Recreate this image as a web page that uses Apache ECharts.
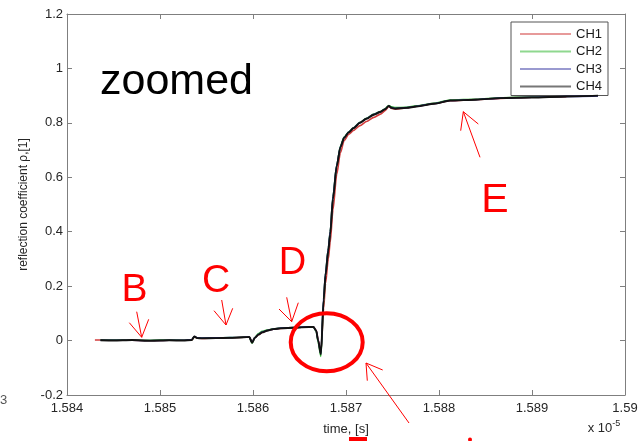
<!DOCTYPE html>
<html>
<head>
<meta charset="utf-8">
<script src="https://cdn.jsdelivr.net/npm/echarts@6/dist/echarts.min.js"></script>
<style>html,body{margin:0;padding:0;background:#fff;}#c{width:642px;height:441px;}</style>
</head>
<body>
<div id="c"></div>
<script>
// time axis values are in units of 1e-5 s
var times = [1.58430, 1.58436, 1.58450, 1.58470, 1.58490, 1.58510, 1.58525, 1.58534, 1.58537, 1.58540,
  1.58545, 1.58560, 1.58575, 1.58590, 1.58596, 1.58599, 1.58602, 1.58606, 1.58610, 1.58615,
  1.58622, 1.58630, 1.58645, 1.58660, 1.58665, 1.58668, 1.58670, 1.58673, 1.58676, 1.58678,
  1.58681, 1.58683, 1.58686, 1.58690, 1.58694, 1.58698, 1.58703, 1.58708, 1.58715, 1.58722,
  1.58730, 1.58737, 1.58742, 1.58746, 1.58749, 1.58753, 1.58765, 1.58776, 1.58795, 1.58812,
  1.58840, 1.58866, 1.58900, 1.58937, 1.58971];
var ch1 = [0.002, 0.002, 0.001, 0.001, 0.0, 0.001, 0.001, 0.002, 0.013, 0.009,
  0.008, 0.010, 0.010, 0.012, 0.013, -0.006, 0.011, 0.022, 0.030, 0.037,
  0.042, 0.045, 0.048, 0.050, 0.050, 0.038, 0.004, -0.046, 0.12, 0.21,
  0.30, 0.36, 0.48, 0.61, 0.69, 0.735, 0.758, 0.772, 0.79, 0.805,
  0.82, 0.832, 0.845, 0.860, 0.853, 0.851, 0.855, 0.861, 0.871, 0.881,
  0.886, 0.890, 0.894, 0.896, null];
var ch2 = [null, 0.002, 0.002, 0.001, 0.001, 0.002, 0.001, 0.002, 0.014, 0.009,
  0.009, 0.009, 0.011, 0.012, 0.012, -0.010, 0.012, 0.026, 0.034, 0.039,
  0.043, 0.046, 0.048, 0.050, 0.049, 0.034, -0.006, -0.058, 0.15, 0.25,
  0.34, 0.40, 0.53, 0.645, 0.715, 0.748, 0.767, 0.782, 0.802, 0.817,
  0.832, 0.842, 0.852, 0.864, 0.859, 0.856, 0.857, 0.863, 0.872, 0.884,
  0.887, 0.892, 0.895, 0.898, null];
var ch3 = [null, 0.001, 0.001, 0.001, 0.0, 0.001, 0.001, 0.003, 0.015, 0.010,
  0.009, 0.010, 0.011, 0.012, 0.013, -0.007, 0.011, 0.023, 0.031, 0.037,
  0.042, 0.046, 0.048, 0.051, 0.050, 0.036, 0.001, -0.049, 0.16, 0.25,
  0.34, 0.40, 0.53, 0.645, 0.712, 0.746, 0.766, 0.781, 0.801, 0.816,
  0.831, 0.841, 0.851, 0.862, 0.856, 0.853, 0.856, 0.861, 0.871, 0.882,
  0.886, 0.891, 0.894, 0.897, 0.899];
var ch4 = [null, 0.001, 0.0, 0.002, -0.001, 0.001, 0.0, 0.002, 0.015, 0.009,
  0.008, 0.009, 0.010, 0.012, 0.013, -0.008, 0.010, 0.022, 0.030, 0.036,
  0.042, 0.045, 0.047, 0.050, 0.050, 0.036, 0.0, -0.050, 0.15, 0.24,
  0.33, 0.39, 0.52, 0.64, 0.71, 0.745, 0.765, 0.78, 0.80, 0.815,
  0.83, 0.84, 0.85, 0.862, 0.855, 0.852, 0.855, 0.86, 0.87, 0.882,
  0.885, 0.891, 0.893, 0.897, 0.9];
var seriesNames = ['CH1', 'CH2', 'CH3', 'CH4'];
var seriesValues = [ch1, ch2, ch3, ch4];
var xTicks = {min: 1.584, max: 1.59, step: 0.001};
var yTicks = {min: -0.2, max: 1.2, step: 0.2};

var lineColors = ['#d23c3c', '#2fb52f', '#2b2b8f', '#111111'];
var legendColors = ['#e79a9a', '#8fd88f', '#9a9ad0', '#777777'];
var lineWidths = [1.6, 1.6, 1.6, 1.9];
var FONT = 'Liberation Sans, Arial, sans-serif';

function pairs(vals) {
  var out = [];
  for (var i = 0; i < times.length; i++) {
    if (vals[i] !== null && vals[i] !== undefined) out.push([times[i], vals[i]]);
  }
  return out;
}

var axisLineStyle = {color: '#7f7f7f', width: 1};
function xAx(pos, showLabel) {
  return {
    type: 'value', position: pos, min: xTicks.min, max: xTicks.max, interval: xTicks.step,
    axisLine: {show: true, onZero: false, lineStyle: axisLineStyle},
    axisTick: {show: true, inside: true, length: 5, lineStyle: axisLineStyle},
    splitLine: {show: false},
    axisLabel: {show: showLabel, color: '#262626', fontFamily: FONT, fontSize: 13, margin: 7,
      formatter: function (v) { return String(parseFloat(v.toFixed(3))); }},
    name: showLabel ? 'time, [s]' : '', nameLocation: 'middle', nameGap: 28,
    nameTextStyle: {color: '#262626', fontFamily: FONT, fontSize: 13}
  };
}
function yAx(pos, showLabel) {
  return {
    type: 'value', position: pos, min: yTicks.min, max: yTicks.max, interval: yTicks.step,
    axisLine: {show: true, onZero: false, lineStyle: axisLineStyle},
    axisTick: {show: true, inside: true, length: 5, lineStyle: axisLineStyle},
    splitLine: {show: false},
    axisLabel: {show: showLabel, color: '#262626', fontFamily: FONT, fontSize: 13, margin: 4,
      formatter: function (v) { return String(parseFloat(v.toFixed(1))); }},
    name: showLabel ? 'reflection coefficient \u03c1,[1]' : '', nameLocation: 'middle', nameGap: 27,
    nameTextStyle: {color: '#262626', fontFamily: FONT, fontSize: 12}
  };
}

var series = seriesNames.map(function (n, i) {
  return {
    name: n, type: 'line', xAxisIndex: 0, yAxisIndex: 0,
    data: pairs(seriesValues[i]), showSymbol: false, symbol: 'none',
    smooth: 0.25, smoothMonotone: 'x',
    lineStyle: {color: lineColors[i], width: lineWidths[i]},
    itemStyle: {color: lineColors[i]},
    z: 2 + i, animation: false
  };
});

var red = '#ff0000';
function seg(x1, y1, x2, y2, w) {
  return {type: 'line', shape: {x1: x1, y1: y1, x2: x2, y2: y2},
    style: {stroke: red, lineWidth: w || 1}, z: 100};
}
function letter(t, cx, cy, size) {
  return {type: 'text', x: cx, y: cy, z: 100,
    style: {text: t, fill: red, font: size + 'px ' + FONT, textAlign: 'center', textVerticalAlign: 'middle'}};
}

var graphics = [
  {type: 'text', x: 100, y: 82, z: 100,
    style: {text: 'zoomed', fill: '#000', font: '43px ' + FONT, textAlign: 'left', textVerticalAlign: 'middle'}},
  letter('B', 134.5, 290, 39), letter('C', 216, 281.5, 39), letter('D', 292.5, 264, 38), letter('E', 495, 201, 41),
  // B arrow
  seg(136.7, 311.7, 141.7, 337.3), seg(141.7, 337.3, 129.3, 322.7), seg(141.7, 337.3, 148.7, 319.3),
  // C arrow
  seg(221.7, 300, 226, 325), seg(226, 325, 214, 310.7), seg(226, 325, 232.7, 308.3),
  // D arrow
  seg(286.7, 297.3, 291.7, 321.7), seg(291.7, 321.7, 279, 309), seg(291.7, 321.7, 298.3, 302.7),
  // E arrow
  seg(480, 157.3, 463.3, 111.7), seg(463.3, 111.7, 460.7, 130.7), seg(463.3, 111.7, 478.3, 124),
  // ellipse
  {type: 'ellipse', shape: {cx: 326.7, cy: 342.3, rx: 36, ry: 29}, z: 100,
    style: {stroke: red, lineWidth: 4, fill: null}},
  // lower arrow
  seg(366, 363, 409, 423), seg(366, 363, 382.7, 370), seg(366, 363, 367.3, 380.7),
  // clipped red marks at bottom
  {type: 'rect', shape: {x: 349, y: 437, width: 18, height: 4}, style: {fill: red}, z: 100},
  {type: 'circle', shape: {cx: 470, cy: 439.5, r: 2}, style: {fill: red}, z: 100},
  // exponent
  {type: 'text', x: 604, y: 428, z: 100,
    style: {text: '{a|x 10}{b|-5}', textAlign: 'center', textVerticalAlign: 'middle',
      rich: {a: {fontSize: 13, fontFamily: FONT, fill: '#262626', color: '#262626'},
             b: {fontSize: 9, fontFamily: FONT, fill: '#262626', color: '#262626', verticalAlign: 'top', padding: [0, 0, 8, 0]}}}},
  // stray glyph at left edge
  {type: 'text', x: 0, y: 400, z: 100,
    style: {text: '3', fill: '#555', font: '13px ' + FONT, textAlign: 'left', textVerticalAlign: 'middle'}}
];

var chart = echarts.init(document.getElementById('c'), null, {renderer: 'canvas'});
chart.setOption({
  animation: false,
  backgroundColor: '#ffffff',
  grid: {left: 67, right: 17, top: 14, bottom: 43, containLabel: false, show: false},
  xAxis: [xAx('bottom', true), xAx('top', false)],
  yAxis: [yAx('left', true), yAx('right', false)],
  legend: {
    orient: 'vertical', left: 511, top: 22,
    padding: [5, 6, 2, 9], itemGap: 3.5, itemWidth: 51, itemHeight: 2,
    backgroundColor: '#fff', borderColor: '#555', borderWidth: 1, borderRadius: 0,
    textStyle: {color: '#1a1a1a', fontFamily: FONT, fontSize: 13, lineHeight: 14},
    icon: 'rect',
    data: seriesNames.map(function (n, i) { return {name: n, icon: 'rect', itemStyle: {color: legendColors[i]}}; })
  },
  series: series,
  graphic: graphics
});
</script>
</body>
</html>
